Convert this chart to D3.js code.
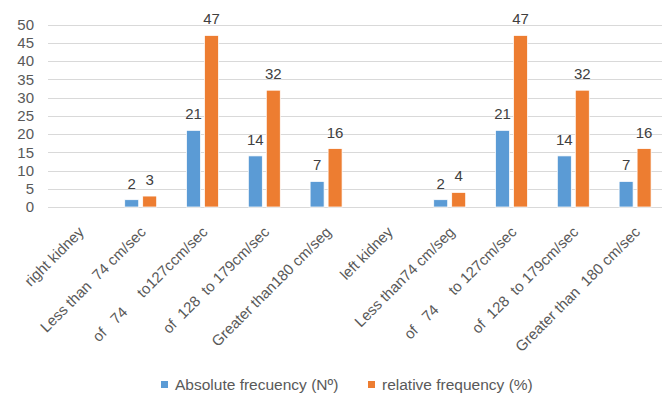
<!DOCTYPE html>
<html>
<head>
<meta charset="utf-8">
<script src="https://cdn.jsdelivr.net/npm/d3@7"></script>
<style>
  html, body { margin: 0; padding: 0; background: #fff; }
  svg text { font-family: "Liberation Sans", "DejaVu Sans", sans-serif; white-space: pre; }
</style>
</head>
<body>
<svg id="chart" width="662" height="394"></svg>
<script>
const categories = [
  "right kidney",
  "Less than  74 cm/sec",
  "of   74     to127ccm/sec",
  "of  128  to 179cm/sec",
  "Greater than180 cm/seg",
  "left kidney",
  "Less than74 cm/seg",
  "of   74     to 127cm/sec",
  "of  128  to 179cm/sec",
  "Greater than  180 cm/sec"
];
const seriesNames = ["Absolute frecuency (Nº)", "relative frequency (%)"];
const absoluteValues = [null, 2, 21, 14, 7, null, 2, 21, 14, 7];
const relativeValues = [null, 3, 47, 32, 16, null, 4, 47, 32, 16];
const yTicks = [0, 5, 10, 15, 20, 25, 30, 35, 40, 45, 50];
const colors = ["#5B9BD5", "#ED7D31"];

const svg = d3.select("#chart");
const plotLeft = 48, plotRight = 666, plotTop = 24.5, plotBottom = 207;
const idx = d3.range(categories.length);

const x0 = d3.scaleBand().domain(idx).range([plotLeft, plotRight]).paddingInner(0).paddingOuter(0);
const x1 = d3.scaleBand().domain(seriesNames).range([0, x0.bandwidth()]).paddingInner(0.222).paddingOuter(0.83);
const y = d3.scaleLinear().domain([0, 50]).range([plotBottom, plotTop]);

// gridlines
svg.append("g").selectAll("line").data(yTicks).join("line")
  .attr("x1", plotLeft).attr("x2", 662)
  .attr("y1", d => Math.round(y(d)) + 0.5).attr("y2", d => Math.round(y(d)) + 0.5)
  .attr("stroke", "#d9d9d9").attr("stroke-width", 1);

// y axis labels
const yAxis = d3.axisLeft(y).tickValues(yTicks).tickSize(0).tickPadding(0);
const yg = svg.append("g").attr("transform", `translate(34,0)`).call(yAxis);
yg.select(".domain").remove();
yg.selectAll("text").attr("fill", "#595959").attr("font-size", 15).attr("font-family", "Liberation Sans, sans-serif");

const seriesData = [absoluteValues, relativeValues];

seriesData.forEach((vals, si) => {
  const g = svg.append("g");
  const data = vals.map((v, i) => ({i, v})).filter(d => d.v !== null);
  g.selectAll("rect").data(data).join("rect")
    .attr("x", d => x0(d.i) + x1(seriesNames[si]))
    .attr("width", x1.bandwidth())
    .attr("y", d => y(d.v))
    .attr("height", d => y(0) - y(d.v))
    .attr("fill", colors[si])
    .attr("stroke", "#fff").attr("stroke-width", 0.75);
  g.selectAll("text").data(data).join("text")
    .attr("x", d => x0(d.i) + x1(seriesNames[si]) + x1.bandwidth() / 2)
    .attr("y", d => y(d.v) - 11)
    .attr("text-anchor", "middle")
    .attr("fill", "#404040")
    .attr("font-size", 15)
    .text(d => d.v);
});

// x labels
svg.append("g").selectAll("text").data(idx).join("text")
  .attr("transform", i => `translate(${x0(i) + x0.bandwidth() / 2 + 6},${plotBottom + 26}) rotate(-45)`)
  .attr("text-anchor", "end")
  .attr("fill", "#595959")
  .attr("font-size", 15)
  .text(i => categories[i]);

// legend
const legendX = [161, 368];
const lg = svg.append("g").selectAll("g").data(seriesNames).join("g")
  .attr("transform", (d, i) => `translate(${legendX[i]},381)`);
lg.append("rect").attr("width", 7).attr("height", 7).attr("fill", (d, i) => colors[i]);
lg.append("text").attr("x", 14).attr("y", 9).attr("fill", "#595959").attr("font-size", 15.5).text(d => d);
</script>
</body>
</html>
